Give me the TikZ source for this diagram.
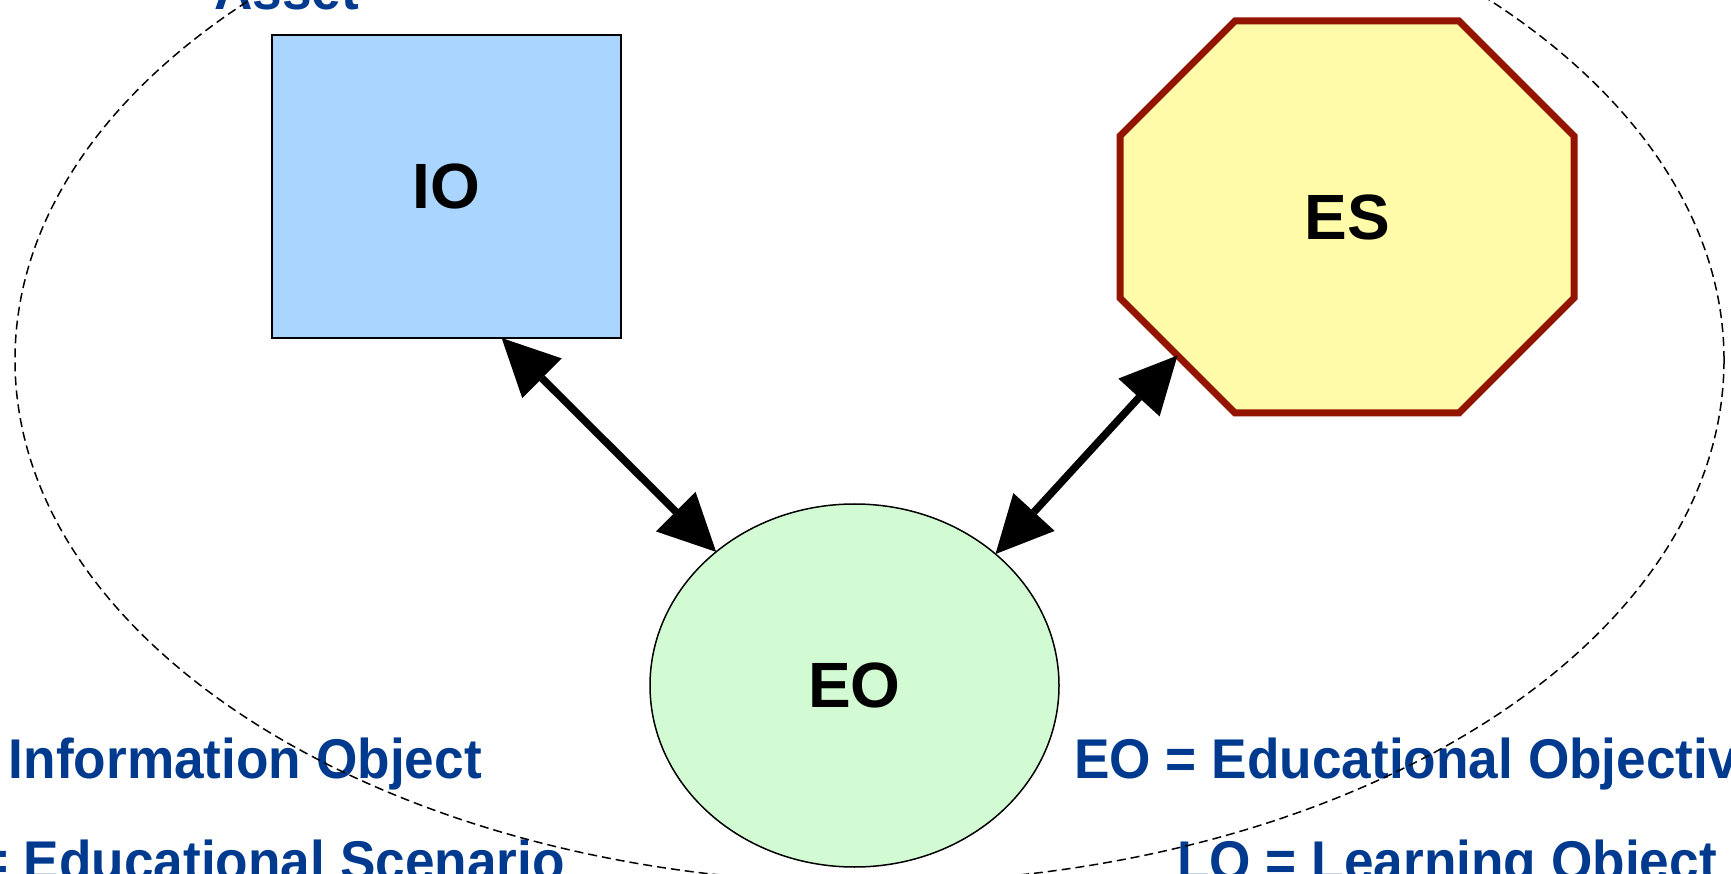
\documentclass[tikz,border=0pt]{standalone}
\usepackage{fontspec}
\setmainfont{Liberation Sans}
\usetikzlibrary{arrows.meta,shapes.geometric,backgrounds}

\definecolor{iofill}{HTML}{AAD5FF}
\definecolor{eofill}{HTML}{D3FBD3}
\definecolor{esfill}{HTML}{FFFBA8}
\definecolor{esedge}{HTML}{931500}
\definecolor{legendblue}{HTML}{003A8E}

% slightly narrowed bold legend lettering
\newcommand\legendtxt[1]{\scalebox{0.95}[1]{#1}}

\tikzset{
  objlabel/.style={font=\fontsize{64}{76}\selectfont\bfseries, text=black},
  iobox/.style={objlabel, rectangle, draw=black, line width=1.5pt, fill=iofill,
    minimum width=349pt, minimum height=303pt, inner sep=0pt, outer sep=0pt},
  eoblob/.style={objlabel, ellipse, draw=black, line width=1.5pt, fill=eofill,
    minimum width=409pt, minimum height=363pt, inner sep=0pt, outer sep=0pt},
  esframe/.style={objlabel, rectangle, minimum width=454pt, minimum height=392pt,
    inner sep=0pt, outer sep=0pt},
  esoutline/.style={draw=esedge, line width=7pt, fill=esfill, line join=miter},
  link/.style={line width=7.5pt,
    {Triangle[length=57pt,width=56pt,line width=0pt]}-{Triangle[length=57pt,width=56pt,line width=0pt]}},
  assetline/.style={draw=black, line width=1.5pt, dash pattern=on 9pt off 5pt},
  legend/.style={text=legendblue, font=\fontsize{56}{68}\selectfont\bfseries, inner sep=0pt}
}

\begin{document}
\begin{tikzpicture}[x=1pt,y=1pt]
\useasboundingbox (0,0) rectangle (1731,873);
\clip (0,0) rectangle (1731,873);

% the three objects
\node[iobox] (IO) at (446.5,686.5) {IO};
\node[eoblob] (EO) at (854.5,187.5) {EO};
\node[esframe] (ES) at (1347,656) {ES};

% chamfered outline of the scenario
\begin{pgfonlayer}{background}
  \draw[esoutline]
    ([xshift=115pt]ES.north west) -- ([xshift=-115pt]ES.north east)
    -- ([yshift=-115pt]ES.north east) -- ([yshift=115pt]ES.south east)
    -- ([xshift=-115pt]ES.south east) -- ([xshift=115pt]ES.south west)
    -- ([yshift=115pt]ES.south west) -- ([yshift=-115pt]ES.north west) -- cycle;
\end{pgfonlayer}
\coordinate (ESport) at ([shift={(57.5pt,57.5pt)}]ES.south west);

% relations
\draw[link] (IO.-70.7) -- (EO.136.4);
\draw[link] (ESport) -- (EO.43.4);

% legend
\node[legend, anchor=base west] (asset) at (214,863) {\legendtxt{Asset}};
\node[legend, anchor=base east] (ioname) at (482,95) {\legendtxt{IO = Information Object}};
\node[legend, anchor=base east] (esname) at (565,-7) {\legendtxt{ES = Educational Scenario}};
\node[legend, anchor=base west] (eoname) at (1074,95) {\legendtxt{EO = Educational Objective}};
\node[legend, anchor=base west] (loname) at (1177,-7) {\legendtxt{LO = Learning Object}};

% asset boundary
\draw[assetline] (869.5,513) ellipse (854.5 and 523);
\end{tikzpicture}
\end{document}
